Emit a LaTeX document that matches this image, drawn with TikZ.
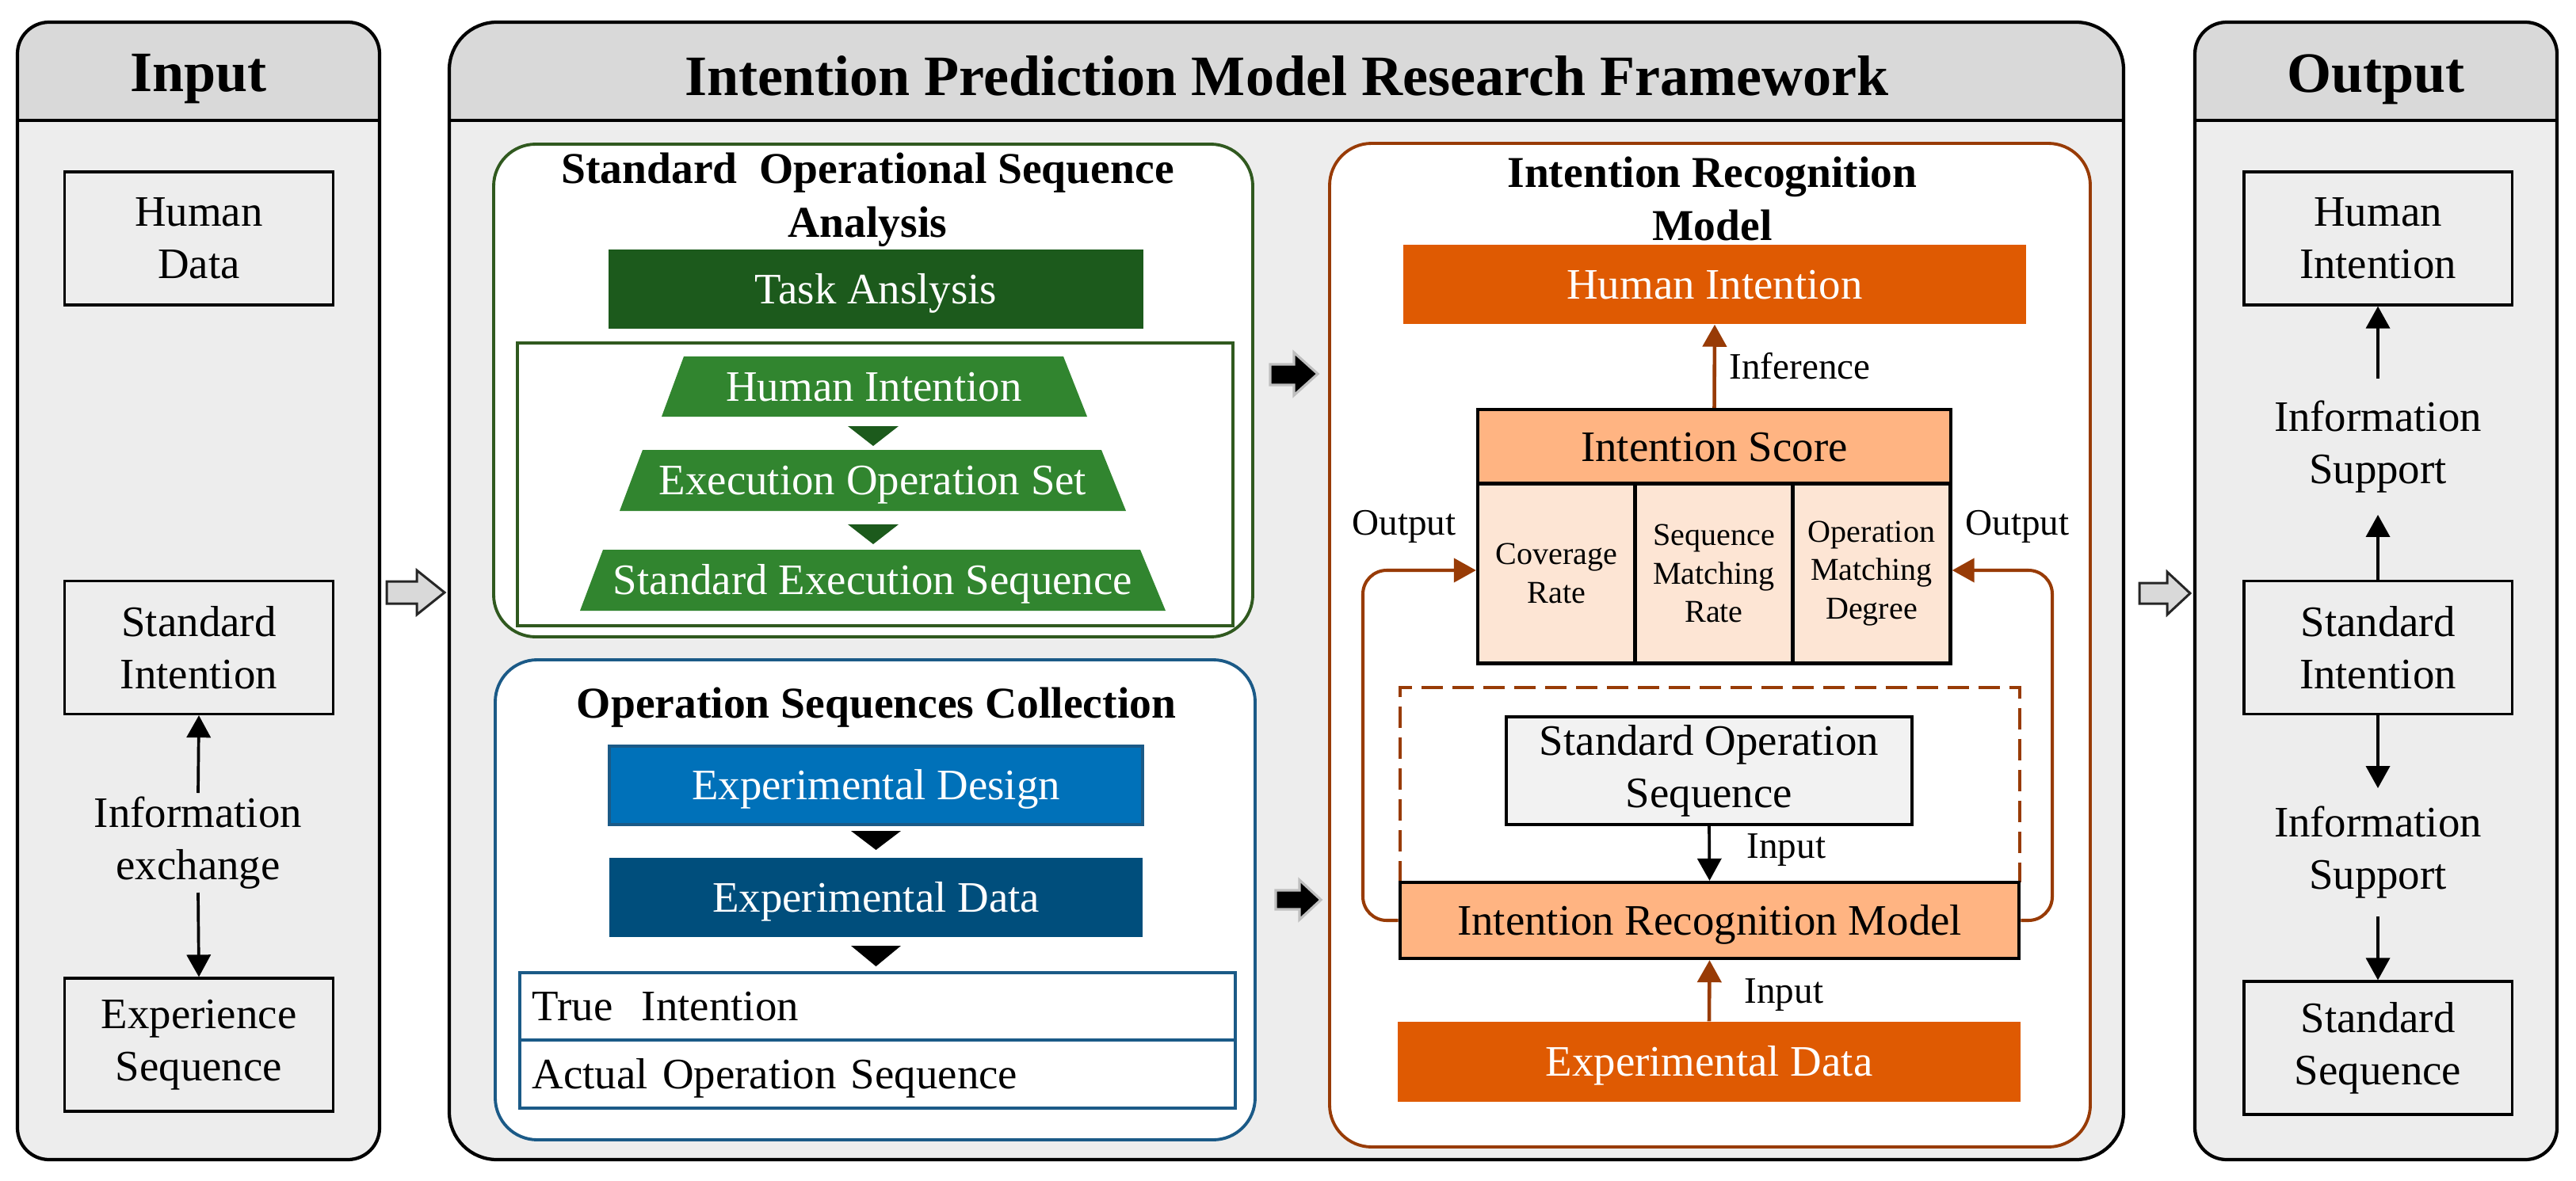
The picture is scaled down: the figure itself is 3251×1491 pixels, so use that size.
\documentclass[tikz,border=0pt]{standalone}
\usepackage{fontspec}
\setmainfont{Liberation Serif}
\usetikzlibrary{arrows.meta}
\definecolor{panelgray}{HTML}{EDEDED}
\definecolor{headgray}{HTML}{D9D9D9}
\definecolor{gdark}{HTML}{1C5A1C}
\definecolor{gmid}{HTML}{31852F}
\definecolor{gline}{HTML}{30591F}
\definecolor{bmain}{HTML}{0071B9}
\definecolor{bdark}{HTML}{004E7C}
\definecolor{bline}{HTML}{1B5A87}
\definecolor{omain}{HTML}{DF5A02}
\definecolor{olight}{HTML}{FFB482}
\definecolor{opale}{HTML}{FDE5D4}
\definecolor{brn}{HTML}{983B06}
\definecolor{sosgray}{HTML}{F2F2F2}
\newcommand\fsBase{\fontsize{15.6pt}{18.8pt}\selectfont}
\newcommand\fsTitle{\fontsize{20.5pt}{24pt}\selectfont\bfseries}
\newcommand\fsSub{\fontsize{15.8pt}{19.3pt}\selectfont\bfseries}
\newcommand\fsLab{\fontsize{13.4pt}{16pt}\selectfont}
\newcommand\fsCell{\fontsize{11.4pt}{13.7pt}\selectfont}
\begin{document}
\begin{tikzpicture}[x=0.01cm,y=-0.01cm,
  every node/.style={inner sep=0pt, font=\fsBase, align=center},
  one/.style={text height=0.48cm, text depth=0.12cm},
  ibox/.style={draw=black, line width=0.9pt, fill=panelgray, minimum width=3.38cm, minimum height=1.68cm},
  karr/.style={line width=1.05pt, -{Triangle[width=0.3cm,length=0.28cm]}},
  barr/.style={draw=brn, line width=1.3pt, -{Triangle[width=0.3cm,length=0.28cm]}, color=brn},
  wtxt/.style={text=white},
  cell/.style={draw=black, line width=1.2pt, fill=opale, minimum width=1.99cm, minimum height=2.27cm, font=\fsCell},
  lab/.style={font=\fsLab, anchor=west},
  blockg/.style={draw=black!85, line width=0.85pt, fill=headgray},
  blockk/.style={draw=black!25, line width=0.9pt, fill=black}]
\useasboundingbox (0,0) rectangle (3251,1491);
% ---------- panels ----------
\begin{scope}
\clip[rounded corners=0.4cm] (22,28) rectangle (479,1464);
\fill[panelgray] (22,28) rectangle (479,1464);
\fill[headgray] (22,28) rectangle (479,152);
\end{scope}
\draw[line width=1.2pt] (22,152) -- (479,152);
\draw[line width=1.2pt, rounded corners=0.4cm] (22,28) rectangle (479,1464);
\begin{scope}
\clip[rounded corners=0.6cm] (567,28) rectangle (2680,1464);
\fill[panelgray] (567,28) rectangle (2680,1464);
\fill[headgray] (567,28) rectangle (2680,152);
\end{scope}
\draw[line width=1.2pt] (567,152) -- (2680,152);
\draw[line width=1.2pt, rounded corners=0.6cm] (567,28) rectangle (2680,1464);
\begin{scope}
\clip[rounded corners=0.4cm] (2770,28) rectangle (3227,1464);
\fill[panelgray] (2770,28) rectangle (3227,1464);
\fill[headgray] (2770,28) rectangle (3227,152);
\end{scope}
\draw[line width=1.2pt] (2770,152) -- (3227,152);
\draw[line width=1.2pt, rounded corners=0.4cm] (2770,28) rectangle (3227,1464);
\node[font=\fsTitle] (tin) at (250.5,100) {Input};
\node[font=\fsTitle] (tmid) at (1624,96) {Intention Prediction Model Research Framework};
\node[font=\fsTitle] (tout) at (2998.5,100) {Output};
% ---------- input panel ----------
\node[ibox] (hd) at (251,301) {Human\\Data};
\node[ibox] (si) at (251,817.5) {Standard\\Intention};
\node[ibox] (es) at (251,1319) {Experience\\Sequence};
\node[inner ysep=0.04cm] (ie) at (250,1064) {Information\\exchange};
\draw[karr] (ie.north) -- (si.south);
\draw[karr] (ie.south) -- (es.north);
% ---------- output panel ----------
\node[ibox] (ohi) at (3001,301) {Human\\Intention};
\node[ibox] (osi) at (3001,817.5) {Standard\\Intention};
\node[ibox] (oss) at (3001,1323) {Standard\\Sequence};
\node[inner ysep=0.27cm] (is1) at (3001,564) {Information\\Support};
\node[inner ysep=0.22cm] (is2) at (3001,1076) {Information\\Support};
\draw[karr] (is1.north) -- (ohi.south);
\draw[karr] (osi.north) -- (is1.south);
\draw[karr] (osi.south) -- (is2.north);
\draw[karr] (is2.south) -- (oss.north);
% ---------- block arrows ----------
\draw[blockg] (488,734) -- (526,734) -- (526,720) -- (561,748) -- (526,776) -- (526,762) -- (488,762) -- cycle;
\draw[blockg] (2700,736) -- (2735,736) -- (2735,722) -- (2764,749) -- (2735,776) -- (2735,762) -- (2700,762) -- cycle;
\draw[blockk] (1603,460) -- (1633,460) -- (1633,445) -- (1663,472) -- (1633,499) -- (1633,486) -- (1603,486) -- cycle;
\draw[blockk] (1610,1124) -- (1640,1124) -- (1640,1111) -- (1667,1136) -- (1640,1161) -- (1640,1148) -- (1610,1148) -- cycle;
% ---------- standard operational sequence analysis ----------
\draw[gline, line width=1.1pt, fill=white, rounded corners=0.53cm] (623,182) rectangle (1581,804);
\node[font=\fsSub] (tsosa) at (1095,252) {Standard\ \ Operational Sequence\\Analysis};
\node[one, fill=gdark, wtxt, minimum width=6.75cm, minimum height=1.0cm] (task) at (1105.5,365) {Task Anslysis};
\draw[gline, line width=1pt] (653,433) rectangle (1556,790);
\fill[gmid] (835,526) -- (863,450) -- (1342,450) -- (1372,526) -- cycle;
\node[one, wtxt] (hint) at (1103,488) {Human Intention};
\fill[gdark] (1070,538) -- (1134,538) -- (1102,563) -- cycle;
\fill[gmid] (782,645) -- (811,568) -- (1390,568) -- (1421,645) -- cycle;
\node[one, wtxt] (eos) at (1101.5,606.5) {Execution Operation Set};
\fill[gdark] (1070,662) -- (1134,662) -- (1102,687) -- cycle;
\fill[gmid] (732,771) -- (761,694) -- (1439,694) -- (1471,771) -- cycle;
\node[one, wtxt] (ses) at (1101.5,732.5) {Standard Execution Sequence};
% ---------- operation sequences collection ----------
\draw[bline, line width=1.1pt, fill=white, rounded corners=0.53cm] (625,833) rectangle (1584,1439);
\node[one, font=\fsSub] (tosc) at (1106,888) {Operation Sequences Collection};
\node[one, fill=bmain, draw=bline, line width=1pt, wtxt, minimum width=6.73cm, minimum height=0.99cm] (edes) at (1105.5,991.5) {Experimental Design};
\fill (1074,1049) -- (1137,1049) -- (1105.5,1073) -- cycle;
\node[one, fill=bdark, wtxt, minimum width=6.73cm, minimum height=1.0cm] (edat) at (1105.5,1133) {Experimental Data};
\fill (1074,1194) -- (1137,1194) -- (1105.5,1220) -- cycle;
\node[one, draw=bline, line width=1.1pt, fill=white, minimum height=0.85cm, inner xsep=0.16cm, text width=8.71cm, align=left] (trow) at (1107.5,1270.5) {True\ \ Intention};
\node[one, draw=bline, line width=1.1pt, fill=white, minimum height=0.86cm, inner xsep=0.16cm, text width=8.71cm, align=left] (arow) at (1107.5,1356) {Actual Operation Sequence};
% ---------- intention recognition model ----------
\draw[brn, line width=1.1pt, fill=white, rounded corners=0.53cm] (1678,181) rectangle (2638,1448);
\node[font=\fsSub] (tirm) at (2161,251) {Intention Recognition\\Model};
\node[one, fill=omain, wtxt, minimum width=7.86cm, minimum height=1.0cm] (hio) at (2164,359) {Human Intention};
\node[one, draw=black, line width=1.2pt, fill=olight, minimum width=5.97cm, minimum height=0.95cm] (score) at (2163.5,564.5) {Intention Score};
\node[cell] (c1) at (1964.5,724) {Coverage\\Rate};
\node[cell] (c2) at (2163,724) {Sequence\\Matching\\Rate};
\node[cell] (c3) at (2362,724) {Operation\\Matching\\Degree};
\draw[barr] (score.north) -- (hio.south);
\node[lab] (linf) at (2182,462) {Inference};
\draw[brn, line width=0.9pt, dash pattern=on 0.27cm off 0.12cm] (1767,1114) -- (1767,868) -- (2549,868) -- (2549,1114);
\node[draw=black, line width=1.1pt, fill=sosgray, minimum width=5.12cm, minimum height=1.36cm] (sos) at (2157,973) {Standard Operation\\Sequence};
\node[one, draw=black, line width=1.2pt, fill=olight, minimum width=7.81cm, minimum height=0.96cm] (irm) at (2157.5,1162) {Intention Recognition Model};
\node[one, fill=omain, wtxt, minimum width=7.86cm, minimum height=1.01cm] (edo) at (2157,1340.5) {Experimental Data};
\draw[karr] (sos.south) -- (irm.north);
\node[lab] (lin1) at (2204,1073) {Input};
\draw[barr] (edo.north) -- (irm.south);
\node[lab] (lin2) at (2201,1256) {Input};
\draw[barr, line width=1.15pt, rounded corners=0.3cm] (irm.west) -- (1720,1162) -- (1720,720) -- (c1.west |- 0,720);
\draw[barr, line width=1.15pt, rounded corners=0.3cm] (irm.east) -- (2590,1162) -- (2590,720) -- (c3.east |- 0,720);
\node[font=\fsLab] (lo1) at (1772,665) {Output};
\node[font=\fsLab] (lo2) at (2546,665) {Output};
\end{tikzpicture}
\end{document}
